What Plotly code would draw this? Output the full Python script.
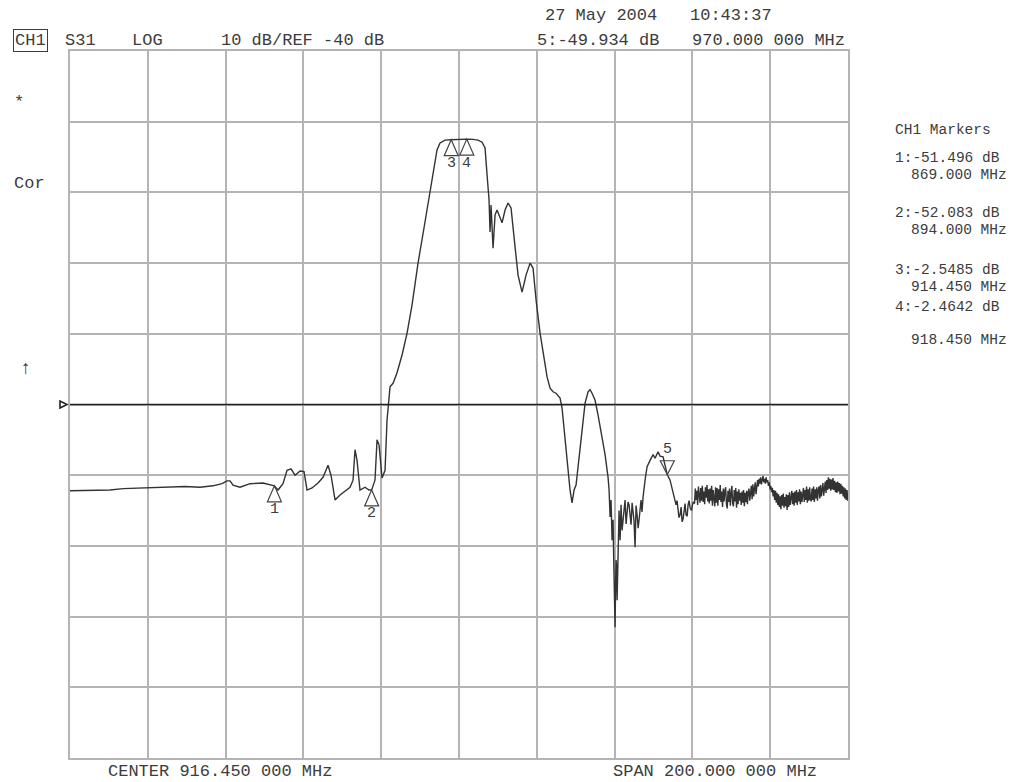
import plotly.graph_objects as go

# ---------------- data ----------------
freq_main_mhz = [
    816.45, 821.59, 826.73, 830.08, 835.73, 841.39, 846.02, 849.87, 853.21, 855.53,
    856.81, 857.59, 858.36, 860.16, 862.73, 866.07, 868.38, 869.0, 869.93, 871.21,
    872.24, 873.27, 874.3, 875.58, 876.61, 877.38, 878.67, 880.21, 881.5, 882.78,
    883.55, 884.58, 885.87, 887.41, 888.44, 889.21, 889.72, 890.24, 891.0, 892.29,
    893.32, 894.0, 894.86, 895.38, 895.89, 896.67, 897.44, 897.95, 898.72, 899.5,
    900.52, 901.81, 903.1, 904.38, 905.92, 907.46, 909.0, 910.03, 910.8, 911.57,
    912.86, 914.45, 916.2, 918.45, 920.06, 921.35, 922.38, 923.15, 923.66, 924.18,
    924.43, 924.69, 925.2, 925.72, 926.23, 927.0, 927.52, 928.29, 929.06, 929.83,
    930.35, 930.86, 931.63, 932.66, 933.69, 934.72, 935.48, 936.26, 937.29, 938.32,
    939.09, 939.86, 940.63, 941.4, 941.92, 942.43, 942.94, 943.71, 944.48, 945.0,
    945.51, 946.03, 946.54, 947.06, 947.83, 948.86, 949.63, 950.14, 950.66, 951.43,
    952.2, 953.23, 954.0, 954.77, 955.03, 955.29, 955.54, 955.8, 956.06, 956.19,
    956.32, 956.45, 956.57, 956.7, 956.83, 956.96, 957.09, 957.22, 957.34, 957.6,
    957.86, 958.11, 958.37, 958.63, 958.9, 959.14, 959.4, 959.66, 959.9, 960.17,
    960.42, 960.68, 960.95, 961.2, 961.45, 961.71, 961.97, 962.23, 962.5, 962.74,
    963.0, 963.25, 963.5, 963.77, 964.28, 964.8, 965.57, 966.34, 966.85, 967.62,
    968.14, 968.91, 969.42, 970.0, 970.71, 971.48, 972.25, 972.5, 972.76, 973.0,
    973.28, 973.55, 973.8, 974.05, 974.3, 974.55, 974.83, 975.1, 975.34, 975.6,
    975.86, 976.2, 976.63,
]
s31_main_db = [
    -52.2, -52.2, -52.1, -51.9, -51.8, -51.7, -51.6, -51.7, -51.5, -51.2,
    -50.8, -50.8, -51.4, -51.7, -51.2, -51.1, -51.4, -51.5, -52.1, -51.2,
    -49.3, -49.1, -50.0, -49.4, -49.5, -52.1, -51.8, -51.1, -50.3, -48.6,
    -50.0, -53.5, -52.8, -52.1, -51.7, -50.7, -46.4, -47.9, -52.1, -51.7,
    -52.1, -52.08, -50.7, -45.0, -45.7, -50.4, -49.3, -42.2, -37.5, -37.0,
    -35.5, -33.0, -29.9, -25.9, -20.0, -15.0, -10.1, -6.5, -4.0, -3.0,
    -2.6, -2.55, -2.5, -2.46, -2.5, -2.6, -2.9, -3.7, -7.5, -11.1,
    -15.6, -11.8, -17.9, -13.2, -12.5, -13.6, -14.3, -12.5, -11.5, -12.2,
    -14.6, -17.7, -21.7, -24.1, -21.7, -20.0, -20.7, -25.2, -29.9, -33.7,
    -36.1, -37.7, -38.2, -38.4, -38.7, -39.1, -40.5, -45.0, -49.3, -52.1,
    -53.9, -52.1, -51.4, -48.8, -45.0, -39.8, -38.2, -37.9, -38.4, -39.4,
    -41.5, -44.6, -47.1, -50.3, -52.1, -55.9, -53.5, -59.2, -56.3, -61.0,
    -64.8, -67.0, -71.5, -65.5, -62.0, -63.0, -67.7, -64.0, -57.3, -55.0,
    -59.2, -54.2, -57.8, -56.3, -54.6, -53.5, -56.9, -55.6, -53.8, -54.2,
    -55.9, -57.0, -53.9, -54.9, -56.5, -60.2, -54.3, -55.6, -57.5, -56.3,
    -54.8, -53.5, -55.2, -53.1, -50.7, -48.8, -47.9, -47.1, -47.6, -46.7,
    -47.3, -47.4, -48.6, -49.93, -50.7, -52.5, -54.2, -53.6, -54.9, -56.0,
    -55.6, -54.5, -56.6, -56.2, -55.2, -54.0, -55.6, -55.8, -54.2, -53.6,
    -54.6, -55.0, -53.8,
]
freq_tail_mhz = [
    977.0, 977.2, 977.4, 977.6, 977.8, 978.0, 978.2, 978.4, 978.6, 978.8,
    979.0, 979.2, 979.4, 979.6, 979.8, 980.0, 980.2, 980.4, 980.6, 980.8,
    981.0, 981.2, 981.4, 981.6, 981.8, 982.0, 982.2, 982.4, 982.6, 982.8,
    983.0, 983.2, 983.4, 983.6, 983.8, 984.0, 984.2, 984.4, 984.6, 984.8,
    985.0, 985.2, 985.4, 985.6, 985.8, 986.0, 986.2, 986.4, 986.6, 986.8,
    987.0, 987.2, 987.4, 987.6, 987.8, 988.0, 988.2, 988.4, 988.6, 988.8,
    989.0, 989.2, 989.4, 989.6, 989.8, 990.0, 990.2, 990.4, 990.6, 990.8,
    991.0, 991.2, 991.4, 991.6, 991.8, 992.0, 992.2, 992.4, 992.6, 992.8,
    993.0, 993.2, 993.4, 993.6, 993.8, 994.0, 994.2, 994.4, 994.6, 994.8,
    995.0, 995.2, 995.4, 995.6, 995.8, 996.0, 996.2, 996.4, 996.6, 996.8,
    997.0, 997.2, 997.4, 997.6, 997.8, 998.0, 998.2, 998.4, 998.6, 998.8,
    999.0, 999.2, 999.4, 999.6, 999.8, 1000.0, 1000.2, 1000.4, 1000.6, 1000.8,
    1001.0, 1001.2, 1001.4, 1001.6, 1001.8, 1002.0, 1002.2, 1002.4, 1002.6, 1002.8,
    1003.0, 1003.2, 1003.4, 1003.6, 1003.8, 1004.0, 1004.2, 1004.4, 1004.6, 1004.8,
    1005.0, 1005.2, 1005.4, 1005.6, 1005.8, 1006.0, 1006.2, 1006.4, 1006.6, 1006.8,
    1007.0, 1007.2, 1007.4, 1007.6, 1007.8, 1008.0, 1008.2, 1008.4, 1008.6, 1008.8,
    1009.0, 1009.2, 1009.4, 1009.6, 1009.8, 1010.0, 1010.2, 1010.4, 1010.6, 1010.8,
    1011.0, 1011.2, 1011.4, 1011.6, 1011.8, 1012.0, 1012.2, 1012.4, 1012.6, 1012.8,
    1013.0, 1013.2, 1013.4, 1013.6, 1013.8, 1014.0, 1014.2, 1014.4, 1014.6, 1014.8,
    1015.0, 1015.2, 1015.4, 1015.6, 1015.8, 1016.0, 1016.2, 1016.4, 1016.45,
]
s31_tail_db = [
    -54.0, -51.9, -53.5, -52.2, -54.2, -51.6, -53.0, -53.9, -51.8, -53.6,
    -51.5, -53.8, -52.3, -54.1, -51.7, -53.2, -51.4, -53.7, -52.0, -54.0,
    -51.9, -53.6, -51.5, -54.3, -52.1, -53.3, -54.4, -51.7, -53.9, -51.8,
    -54.3, -52.0, -53.5, -51.4, -53.8, -52.3, -54.5, -51.9, -53.7, -52.2,
    -51.7, -54.1, -54.7, -52.2, -53.8, -51.9, -54.3, -52.6, -51.5, -54.0,
    -54.4, -52.1, -53.7, -51.8, -54.6, -52.3, -54.1, -52.0, -53.6, -52.5,
    -54.2, -52.3, -53.9, -52.1, -54.4, -52.5, -53.8, -52.2, -54.1, -52.4,
    -51.9, -53.6, -52.2, -51.5, -53.4, -51.3, -53.0, -51.6, -51.0, -52.7,
    -51.4, -50.7, -51.6, -50.5, -51.2, -50.3, -51.3, -50.6, -50.1, -51.0,
    -50.5, -51.2, -50.3, -51.0, -50.7, -51.5, -51.0, -52.0, -51.5, -52.4,
    -51.8, -53.0, -52.1, -53.5, -52.2, -53.9, -52.5, -54.2, -52.7, -54.5,
    -53.0, -54.8, -52.8, -54.3, -52.6, -54.6, -53.1, -54.4, -52.7, -54.9,
    -52.8, -54.5, -52.4, -54.2, -52.6, -52.2, -54.1, -52.5, -54.3, -52.3,
    -53.9, -52.1, -54.2, -52.4, -53.7, -52.0, -54.1, -52.3, -53.8, -52.2,
    -51.8, -53.8, -52.1, -53.5, -51.6, -53.9, -52.0, -53.6, -51.7, -53.4,
    -53.7, -51.9, -53.5, -51.6, -53.8, -52.0, -53.3, -51.7, -53.6, -52.1,
    -51.6, -53.3, -51.4, -53.0, -51.7, -51.1, -52.9, -51.5, -50.9, -52.5,
    -50.7, -52.1, -50.3, -51.9, -50.5, -52.2, -50.6, -52.0, -50.4, -52.1,
    -50.8, -52.4, -51.0, -52.5, -50.9, -52.3, -51.1, -52.7, -51.2, -52.6,
    -51.5, -53.0, -51.7, -53.3, -51.9, -53.5, -52.1, -53.6, -52.8,
]

marker_ids = ["1", "2", "3", "4", "5"]
marker_freq_mhz = [869.0, 894.0, 914.45, 918.45, 970.0]
marker_db = [-51.496, -52.083, -2.5485, -2.4642, -49.934]
marker_pointing_up = [True, True, True, True, False]

center_mhz = 916.45
span_mhz = 200.0
ref_db = -40.0
scale_db = 10.0
ref_div = 5  # reference at centre graticule line

# ---------------- figure ----------------
FONT = "Liberation Mono"
TXT = "#3c3c3c"
GRID = "#b4b4b4"

x0 = center_mhz - span_mhz / 2
x1 = center_mhz + span_mhz / 2
y_top = ref_db + (10 - ref_div) * scale_db
y_bot = ref_db - ref_div * scale_db

fig = go.Figure()
fig.add_trace(go.Scatter(
    x=freq_main_mhz + freq_tail_mhz,
    y=s31_main_db + s31_tail_db,
    mode="lines",
    line=dict(color="#333333", width=1.4),
    hoverinfo="skip",
    showlegend=False,
))

shapes = []
annotations = []

# reference line + reference position indicator
shapes.append(dict(type="line", xref="paper", yref="y", x0=0, x1=1,
                   y0=ref_db, y1=ref_db, line=dict(color="#222222", width=1.6)))
shapes.append(dict(type="path", xref="paper", yref="y", xsizemode="pixel", ysizemode="pixel",
                   xanchor=0, yanchor=ref_db,
                   path="M-10,-3.5 L-3,0 L-10,3.5 Z",
                   line=dict(color="#222222", width=1.6), fillcolor="rgba(0,0,0,0)"))

# marker triangles + numbers
for mid, mf, md, up in zip(marker_ids, marker_freq_mhz, marker_db, marker_pointing_up):
    if up:
        path = "M0,0 L-7,-16 L7,-16 Z"
        ysh = -24
    else:
        path = "M0,0 L-7,14 L7,14 Z"
        ysh = 25
    shapes.append(dict(type="path", xref="x", yref="y", xsizemode="pixel", ysizemode="pixel",
                       xanchor=mf, yanchor=md, path=path,
                       line=dict(color="#444444", width=1.2), fillcolor="rgba(0,0,0,0)"))
    annotations.append(dict(text=mid, xref="x", yref="y", x=mf, y=md, yshift=ysh,
                            showarrow=False, xanchor="center", yanchor="middle",
                            font=dict(family=FONT, size=15, color=TXT)))

L, T, W, H = 70, 51, 778, 707


def txt(s, px, py, anchor="left", size=17, **kw):
    d = dict(text=s, xref="paper", yref="paper", x=(px - L) / W, y=(T + H - py) / H,
             xanchor=anchor, yanchor="middle", showarrow=False,
             font=dict(family=FONT, size=size, color=TXT))
    d.update(kw)
    return d


RS = 14.5
annotations += [
    txt("27 May 2004", 543, 15),
    txt("10:43:37", 688, 15),
    txt("CH1", 13, 41, bordercolor=TXT, borderwidth=1, borderpad=1),
    txt("S31", 63, 41),
    txt("LOG", 130, 41),
    txt("10 dB/REF -40 dB", 219, 41),
    txt("5:-49.934 dB", 535, 41),
    txt("970.000 000 MHz", 690, 41),
    txt("*", 12, 102),
    txt("Cor", 12, 183),
    txt("↑", 25, 369, anchor="center", size=19),
    txt("CH1 Markers", 893, 130, size=RS),
    txt("1:-51.496 dB", 893, 158, size=RS),
    txt("869.000 MHz", 1009, 175, anchor="right", size=RS),
    txt("2:-52.083 dB", 893, 213, size=RS),
    txt("894.000 MHz", 1009, 230, anchor="right", size=RS),
    txt("3:-2.5485 dB", 893, 270, size=RS),
    txt("914.450 MHz", 1009, 287, anchor="right", size=RS),
    txt("4:-2.4642 dB", 893, 307, size=RS),
    txt("918.450 MHz", 1009, 340, anchor="right", size=RS),
    txt("CENTER 916.450 000 MHz", 106, 771),
    txt("SPAN 200.000 000 MHz", 611, 771),
]

axis_common = dict(showticklabels=False, ticks="", showgrid=True, gridcolor=GRID, gridwidth=1.5,
                   zeroline=False, showline=True, linecolor=GRID, linewidth=1.5, mirror=True,
                   fixedrange=True)

fig.update_layout(
    width=1012, height=782,
    margin=dict(l=L, r=1012 - L - W, t=T, b=782 - T - H),
    paper_bgcolor="white", plot_bgcolor="white",
    showlegend=False,
    xaxis=dict(range=[x0, x1], tick0=x0, dtick=span_mhz / 10, **axis_common),
    yaxis=dict(range=[y_bot, y_top], tick0=y_bot, dtick=scale_db, **axis_common),
    shapes=shapes,
    annotations=annotations,
)

fig.write_html("out.html", post_script="document.body.style.margin='0px';",
               config={"displayModeBar": False})
